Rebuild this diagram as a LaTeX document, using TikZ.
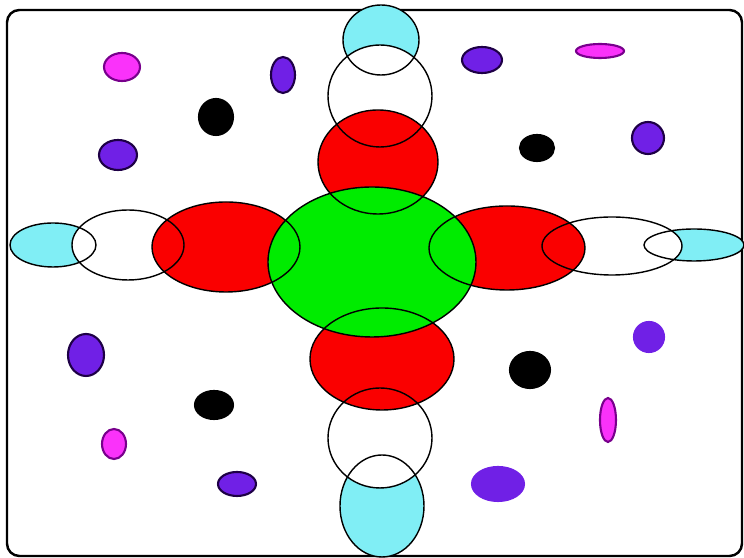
\documentclass[tikz,border=0pt]{standalone}

\definecolor{armcyan}{RGB}{128,238,245}
\definecolor{armred}{RGB}{250,0,0}
\definecolor{hubgreen}{RGB}{0,236,0}
\definecolor{dotviolet}{RGB}{112,32,230}
\definecolor{dotpink}{RGB}{250,50,250}
\definecolor{rimnavy}{RGB}{30,0,70}
\definecolor{rimplum}{RGB}{120,0,140}

\begin{document}
\begin{tikzpicture}[x=0.01cm, y=-0.01cm, line width=0.4pt]

  \useasboundingbox (0,0) rectangle (744,558);

  % --- 1. frame ---
  \draw[line width=0.7pt, rounded corners=3.5pt] (7,10) rectangle (742,556);

  % --- 2. the cross: x/y/rx/ry ---
  \def\cyanArms{381/40/38/35, 382/506/42/51, 53/245/43/22, 694/245/50/16}
  \def\whiteArms{380/96/52/51, 380/438/52/50, 128/245/56/35, 612/246/70/29}
  \def\redArms{378/162/60/52, 382/359/72/51, 226/247/74/45, 507/248/78/42}
  \def\greenHub{372/262/104/75}
  \edef\allArms{\cyanArms, \whiteArms, \redArms, \greenHub}

  % fills, outer ones first
  \foreach \cx/\cy/\rx/\ry in \cyanArms
    \fill[armcyan] (\cx,\cy) ellipse [x radius=\rx, y radius=\ry];
  \foreach \cx/\cy/\rx/\ry in \whiteArms
    \fill[white] (\cx,\cy) ellipse [x radius=\rx, y radius=\ry];
  \foreach \cx/\cy/\rx/\ry in \redArms
    \fill[armred] (\cx,\cy) ellipse [x radius=\rx, y radius=\ry];
  \foreach \cx/\cy/\rx/\ry in \greenHub
    \fill[hubgreen] (\cx,\cy) ellipse [x radius=\rx, y radius=\ry];

  % all outlines on top
  \foreach \cx/\cy/\rx/\ry in \allArms
    \draw (\cx,\cy) ellipse [x radius=\rx, y radius=\ry];

  % --- 3. scattered dots: x/y/rx/ry/fill/rim ---
  \foreach \cx/\cy/\rx/\ry/\fc/\lc in {
      122/67/18/14/dotpink/rimplum, 283/75/12/18/dotviolet/rimnavy,
      216/117/17/18/black/black, 118/155/19/15/dotviolet/rimnavy,
      482/60/20/13/dotviolet/rimnavy, 600/51/24/7/dotpink/rimplum,
      537/148/17/13/black/black, 648/138/16/16/dotviolet/rimnavy,
      86/355/18/21/dotviolet/rimnavy, 214/405/19/14/black/black,
      114/444/12/15/dotpink/rimplum, 237/484/19/12/dotviolet/rimnavy,
      649/337/15/15/dotviolet/dotviolet, 530/370/20/18/black/black,
      608/420/8/22/dotpink/rimplum, 498/484/26/17/dotviolet/dotviolet}
    \filldraw[fill=\fc, draw=\lc, line width=0.6pt]
      (\cx,\cy) ellipse [x radius=\rx, y radius=\ry];

\end{tikzpicture}
\end{document}
